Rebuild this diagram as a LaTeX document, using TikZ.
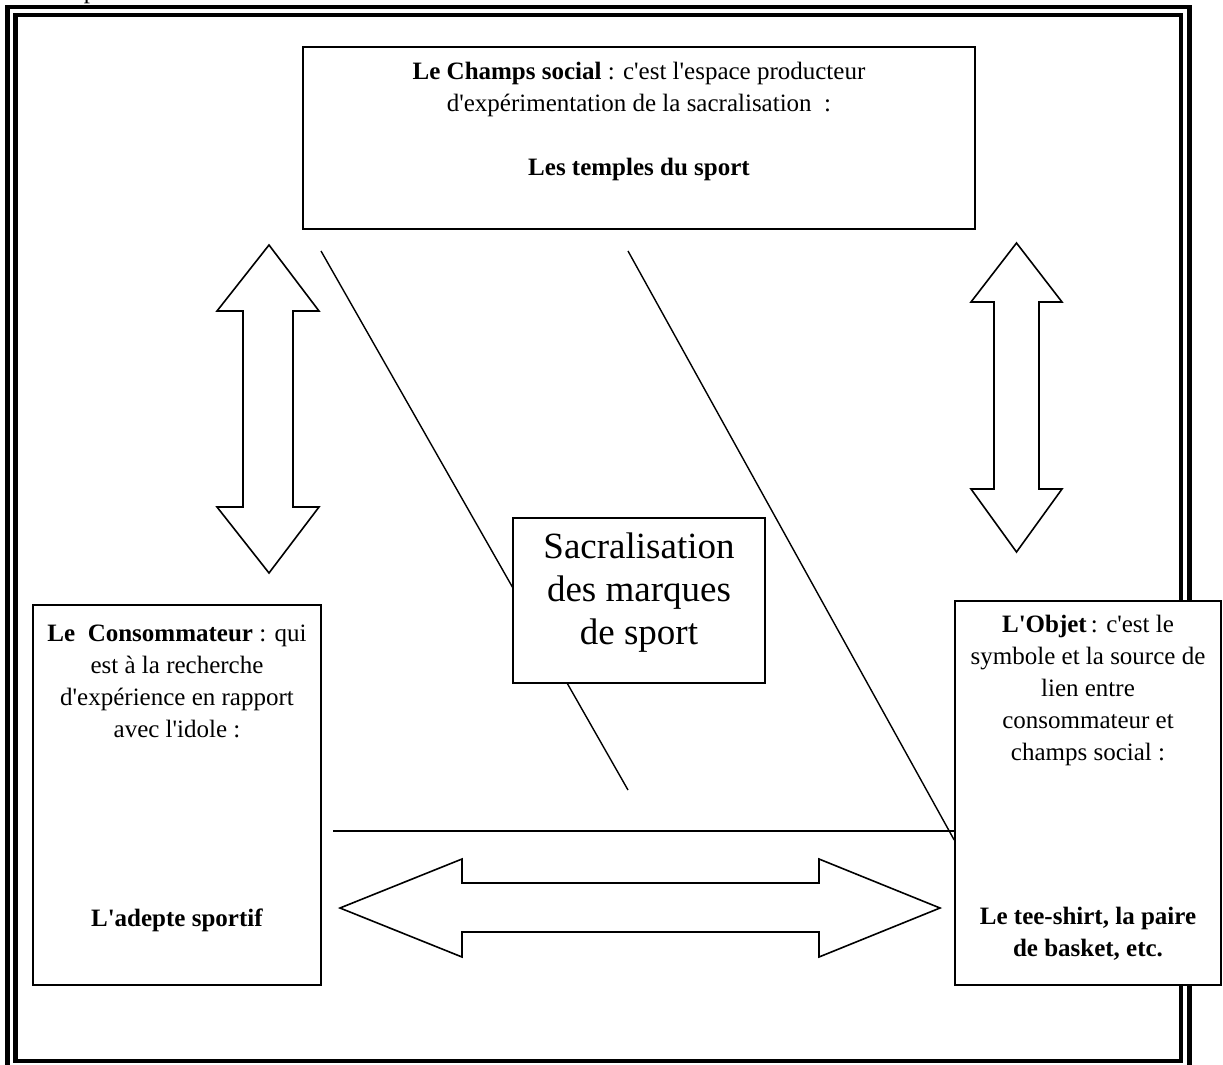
\documentclass[tikz,border=0pt]{standalone}
\usepackage{fontspec}
\newfontfamily\tnr{Liberation Serif}
\begin{document}
\begin{tikzpicture}[x=1pt,y=-1pt,
  box/.style={draw=black, line width=1.6pt, fill=white, inner sep=0pt, rectangle},
  txt/.style={font=\tnr\fontsize{25}{32}\selectfont, align=center, inner sep=0pt},
  bigtxt/.style={font=\tnr\fontsize{37}{43}\selectfont, align=center, inner sep=0pt},
  blockarrow/.style={draw=black, line width=1.6pt, fill=white, line join=miter},
  link/.style={draw=black, line width=1.4pt},
  framepath/.style={draw=black, line width=4.8pt}
]
\useasboundingbox (0,0) rectangle (1223,1065);

% fragment of the line above the frame
\node[txt, anchor=base] (cut) at (90,-1) {p};

% double page frame
\path[framepath] (7.5,7) rectangle (1189.5,1075);
\path[framepath] (15.5,15) rectangle (1181,1061);

% diagonal and horizontal links (drawn first, the boxes cover them)
\coordinate (l1a) at (321,251);
\coordinate (l1b) at (628,790);
\coordinate (l2a) at (628,251);
\coordinate (r840) at (0,840);
\coordinate (hstart) at (333,831);
\draw[link] (l1a) -- (l1b);

% boxes
\node[box, minimum width=672pt, minimum height=182pt] (champ) at (639,138) {};
\node[box, minimum width=288pt, minimum height=380pt] (conso) at (177,795) {};
\node[box, minimum width=266pt, minimum height=384pt] (objet) at (1088,793) {};
\node[box, minimum width=252pt, minimum height=165pt] (sacra) at (639,600.5) {};

\draw[link] (l2a) -- (objet.west |- r840);
\draw[link] (hstart) -- (hstart -| objet.west);

% block arrows
\path[blockarrow] (269,245) -- (319,311) -- (293,311) -- (293,507) -- (319,507)
  -- (269,573) -- (217,507) -- (243,507) -- (243,311) -- (217,311) -- cycle;
\path[blockarrow] (1016.5,243) -- (1062,302) -- (1039,302) -- (1039,489) -- (1062,489)
  -- (1016.5,552) -- (971,489) -- (994,489) -- (994,302) -- (971,302) -- cycle;
\path[blockarrow] (340,908) -- (462,859) -- (462,883) -- (819,883) -- (819,859)
  -- (940,908) -- (819,957) -- (819,932) -- (462,932) -- (462,957) -- cycle;

% texts
\node[txt, anchor=north] (champtxt) at (639,62)
  {\textbf{Le Champs social} : c'est l'espace producteur\\
   d'expérimentation de la sacralisation~~:\\[32pt]
   \textbf{Les temples du sport}};
\node[txt, anchor=north] (consotxt) at (177,625)
  {\textbf{Le~~Consommateur} : qui\\
   est à la recherche\\
   d'expérience en rapport\\
   avec l'idole :};
\node[txt, anchor=base] (consobot) at (177,926) {\textbf{L'adepte sportif}};
\node[txt, anchor=north] (objettxt) at (1088,615)
  {\textbf{L'Objet}\,: c'est le\\
   symbole et la source de\\
   lien entre\\
   consommateur et\\
   champs social :};
\node[txt, anchor=north] (objetbot) at (1088,907)
  {\textbf{Le tee-shirt, la paire}\\
   \textbf{de basket, etc.}};
\node[bigtxt, anchor=north] (sacratxt) at (639,533)
  {Sacralisation\\des marques\\de sport};
\end{tikzpicture}
\end{document}
